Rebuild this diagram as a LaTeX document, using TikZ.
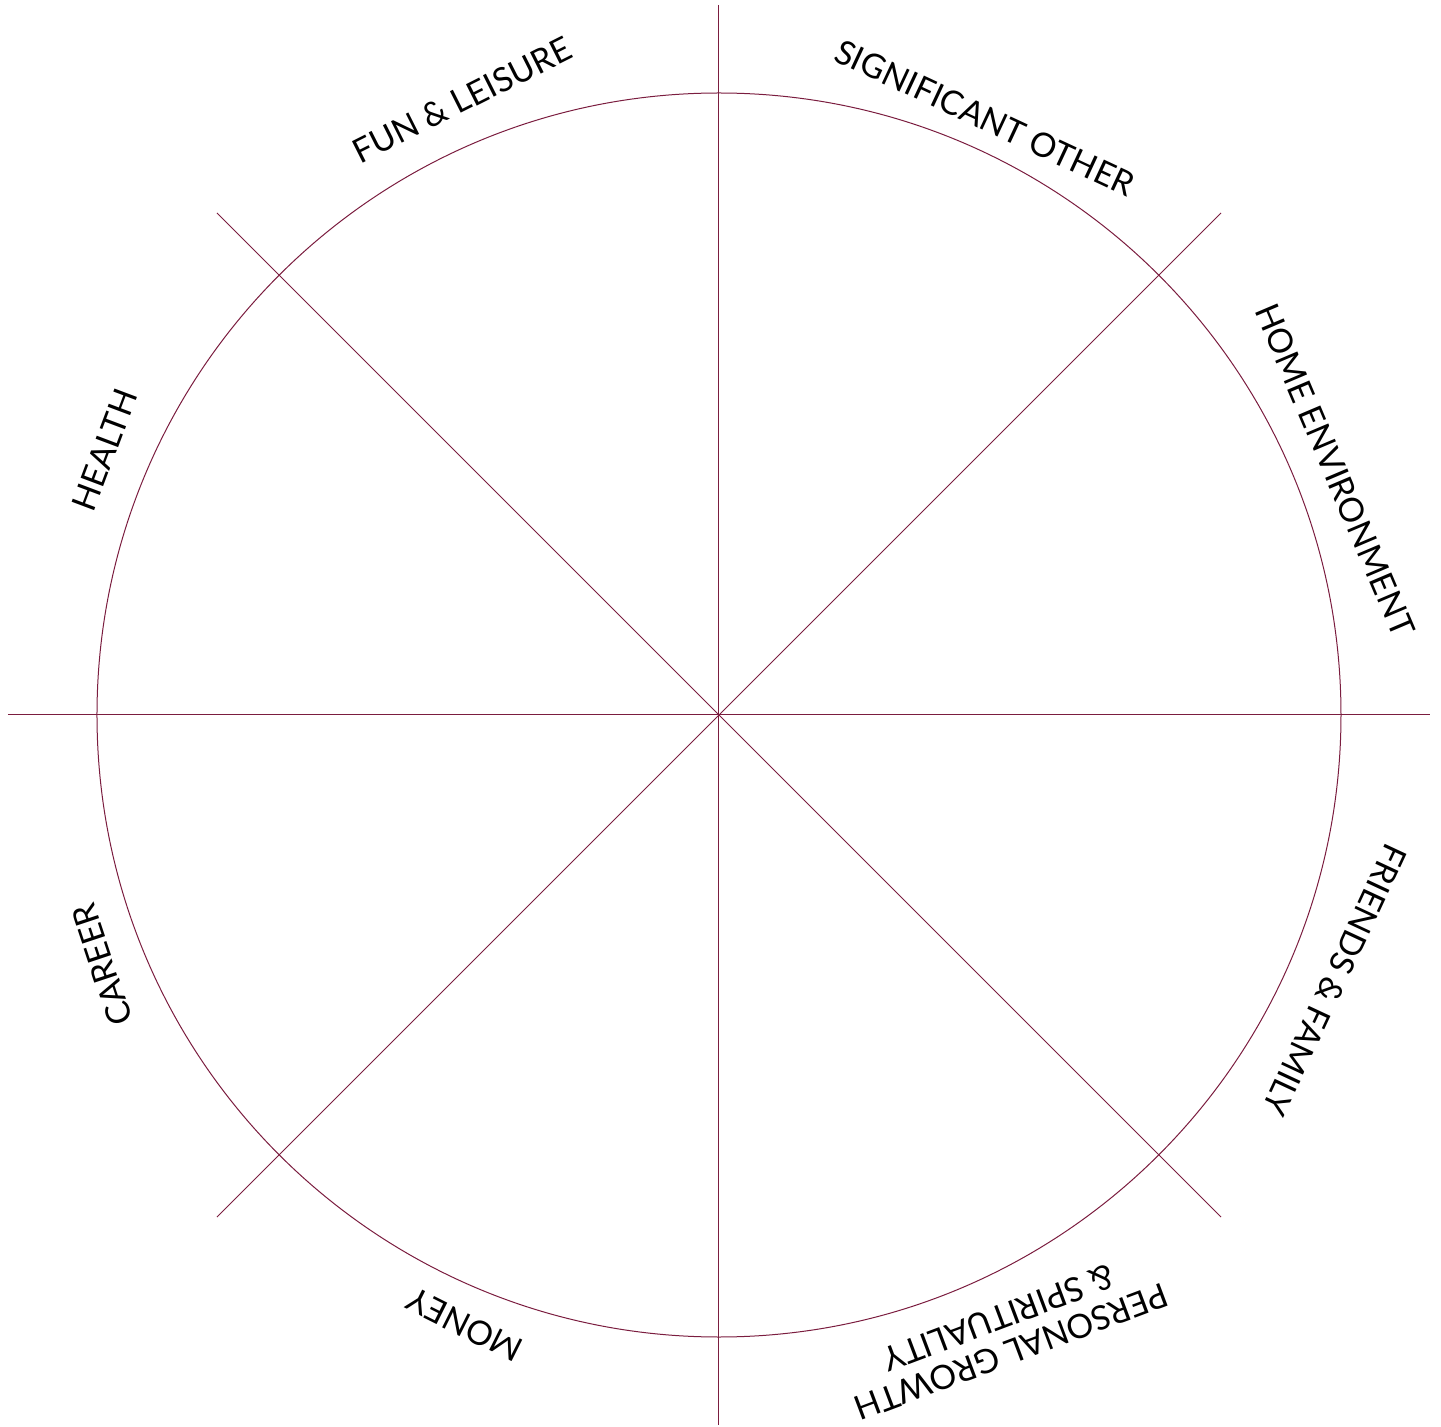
\documentclass[tikz,border=0pt]{standalone}
\usepackage{fontspec}
\setmainfont{Lato}
\definecolor{wheel}{HTML}{7B1D3F}
\begin{document}
\begin{tikzpicture}[x=1pt,y=1pt,
  spoke/.style={draw=wheel,line width=1pt},
  lbl/.style={font=\fontsize{33.5}{36}\selectfont,inner sep=0pt,align=center}]
\useasboundingbox (-719,-712) rectangle (722,715);
\coordinate (c) at (0,0);
\coordinate (n) at (0,710);
\coordinate (s) at (0,-710);
\coordinate (w) at (-711,0);
\coordinate (e) at (711,0);
\coordinate (nw) at (-502,502);
\coordinate (ne) at (502,502);
\coordinate (sw) at (-502,-502);
\coordinate (se) at (502,-502);
\draw[spoke] (c) circle (622);
\draw[spoke] (n) -- (s);
\draw[spoke] (w) -- (e);
\draw[spoke] (nw) -- (se);
\draw[spoke] (ne) -- (sw);
\node[lbl,rotate=26.7] (fun) at (-257,615) {FUN \& LEISURE};
\node[lbl,rotate=-25] (sig) at (266,597) {SIGNIFICANT OTHER};
\node[lbl,rotate=-67] (home) at (616,245) {HOME ENVIRONMENT};
\node[lbl,rotate=245] (friends) at (616,-265) {FRIENDS \& FAMILY};
\node[lbl,rotate=200.6] (growth) at (286,-620) {PERSONAL GROWTH\\\& SPIRITUALITY};
\node[lbl,rotate=153.4] (money) at (-254,-610) {MONEY};
\node[lbl,rotate=108.4] (career) at (-617,-250) {CAREER};
\node[lbl,rotate=69.4] (health) at (-614,265) {HEALTH};
\end{tikzpicture}
\end{document}
